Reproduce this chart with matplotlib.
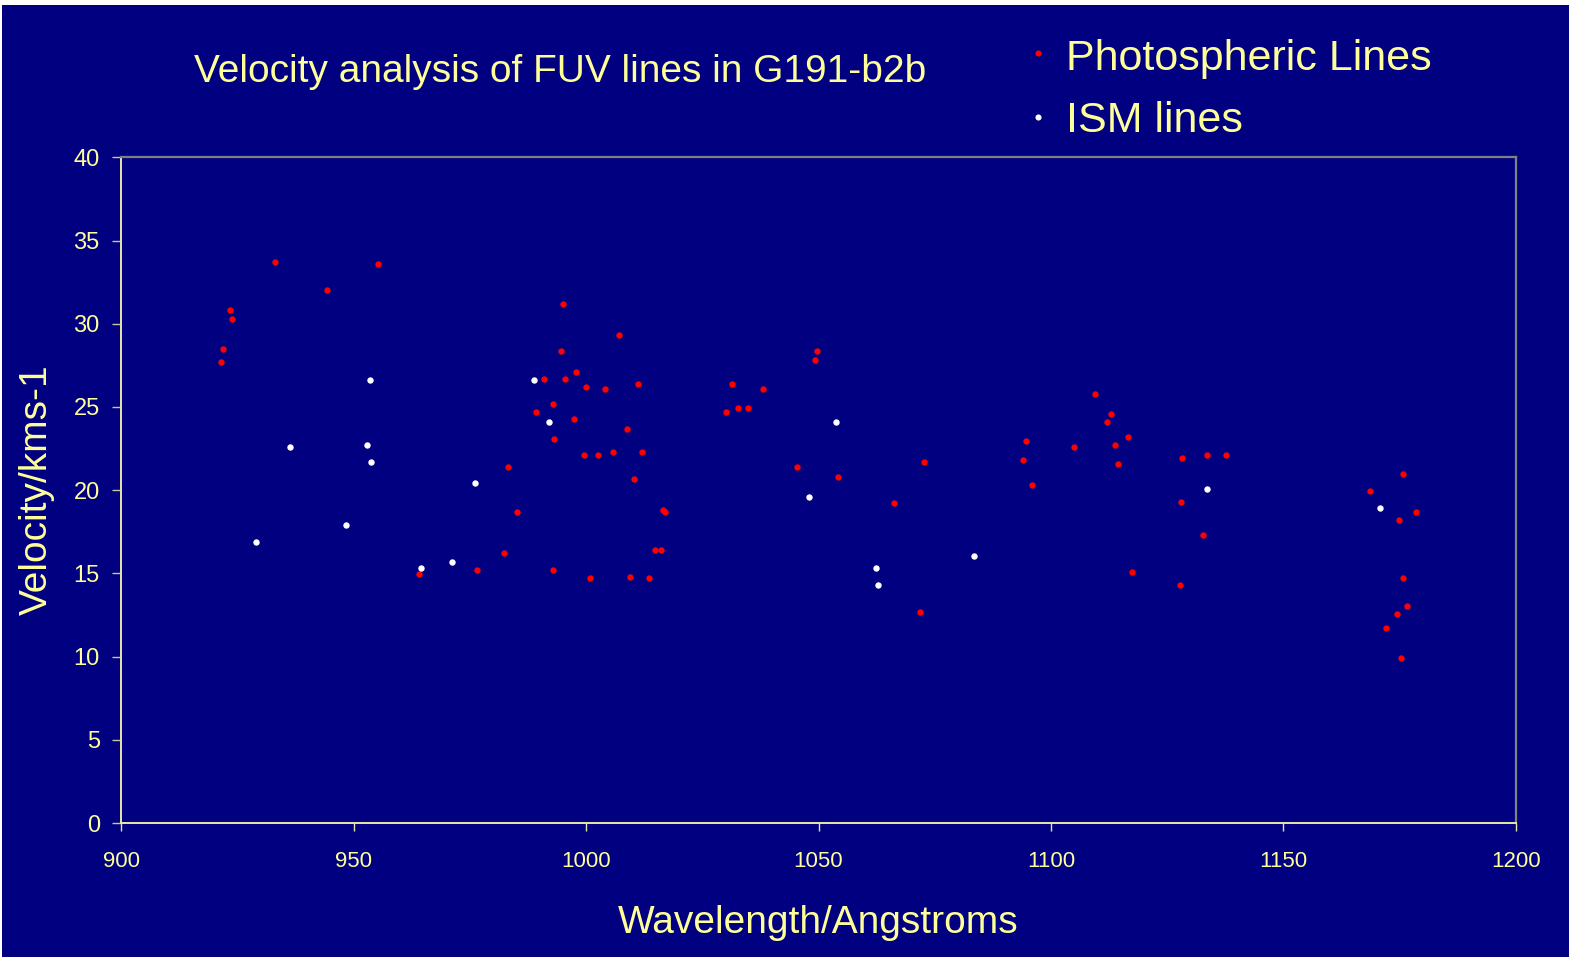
import matplotlib
matplotlib.use("Agg")
import matplotlib.pyplot as plt
from matplotlib.patches import Rectangle
from matplotlib.lines import Line2D

# ---- data ----
photo_wl = [933.1, 955.2, 944.3, 923.3, 923.8, 921.9, 921.5, 983.3, 985.1,
            995.0, 1007.1, 994.6, 1049.7, 1049.3, 997.8, 991.0, 995.5, 1000.0,
            1004.0, 1011.2, 1031.4, 1038.1, 992.8, 989.3, 997.3, 1030.0, 1032.7,
            1034.9, 1008.9, 993.2, 999.5, 1002.6, 1005.8, 1012.1, 1045.3, 1010.3,
            1054.3, 1016.5, 1017.0, 1066.3, 982.4, 1014.8, 1016.2, 992.8, 1000.8,
            1009.4, 1013.5, 1071.9, 964.1, 976.6, 1109.4, 1112.9, 1112.1, 1116.6,
            1094.6, 1104.9, 1113.7, 1072.6, 1094.1, 1114.5, 1128.3, 1133.6, 1137.7,
            1095.9, 1127.9, 1132.8, 1117.4, 1127.8, 1175.8, 1168.6, 1178.5, 1174.9,
            1175.8, 1176.6, 1174.4, 1172.2, 1175.3]
photo_v = [33.7, 33.6, 32.0, 30.8, 30.3, 28.5, 27.7, 21.4, 18.7,
           31.2, 29.3, 28.35, 28.35, 27.8, 27.1, 26.7, 26.7, 26.2,
           26.1, 26.35, 26.35, 26.1, 25.2, 24.7, 24.3, 24.7, 24.96,
           24.96, 23.7, 23.1, 22.1, 22.1, 22.3, 22.3, 21.4, 20.7,
           20.8, 18.8, 18.7, 19.2, 16.2, 16.4, 16.4, 15.2, 14.7,
           14.8, 14.7, 12.7, 14.95, 15.2, 25.8, 24.6, 24.1, 23.2,
           22.96, 22.6, 22.7, 21.7, 21.8, 21.6, 21.95, 22.1, 22.1,
           20.3, 19.3, 17.3, 15.07, 14.3, 20.95, 19.95, 18.7, 18.2,
           14.7, 13.06, 12.56, 11.7, 9.93]

ism_wl = [953.4, 936.4, 952.9, 953.8, 976.2, 948.4, 929.0, 988.8, 992.0,
          1053.8, 1048.0, 1062.3, 1062.7, 964.5, 971.2, 1083.4, 1133.6, 1170.8]
ism_v = [26.6, 22.6, 22.7, 21.7, 20.45, 17.9, 16.9, 26.6, 24.1,
         24.1, 19.6, 15.3, 14.3, 15.3, 15.7, 16.06, 20.07, 18.95]

x_ticks = [900, 950, 1000, 1050, 1100, 1150, 1200]
y_ticks = [0, 5, 10, 15, 20, 25, 30, 35, 40]

title_text = "Velocity analysis of FUV lines in G191-b2b"
series_names = ["Photospheric Lines", "ISM lines"]
x_label = "Wavelength/Angstroms"
y_label = "Velocity/kms-1"

# ---- style ----
W, H = 1585, 957
NAVY = "#000080"
TXT = "#FFFF99"
plt.rcParams['font.family'] = ['Liberation Sans', 'DejaVu Sans']

fig = plt.figure(figsize=(W / 100, H / 100), dpi=100, facecolor="white")
fig.patches.append(Rectangle((2 / W, 0), (1569 - 2) / W, (H - 5) / H,
                             transform=fig.transFigure, facecolor=NAVY,
                             edgecolor="none", zorder=-10))

left, right, top, bottom = 121.3, 1515.7, 157.3, 823.0
ax = fig.add_axes([left / W, (H - bottom) / H, (right - left) / W, (bottom - top) / H])
ax.set_facecolor(NAVY)

ax.plot(photo_wl, photo_v, linestyle="none", marker="o", markersize=4.6,
        color="#FF0000", markeredgewidth=0, clip_on=False)
ax.plot(ism_wl, ism_v, linestyle="none", marker="o", markersize=4.6,
        color="white", markeredgewidth=0, clip_on=False)

ax.set_xlim(900, 1200)
ax.set_ylim(0, 40)
ax.set_xticks(x_ticks)
ax.set_yticks(y_ticks)
ax.set_xticklabels([str(t) for t in x_ticks])
ax.set_yticklabels([str(t) for t in y_ticks])

for s in ["left", "bottom"]:
    ax.spines[s].set_color("#E8E8A8")
    ax.spines[s].set_linewidth(1.4)
for s in ["top", "right"]:
    ax.spines[s].set_color("#808080")
    ax.spines[s].set_linewidth(1.6)

ax.tick_params(axis="x", direction="out", length=6, width=1, color="#E8E8A8",
               labelcolor=TXT, labelsize=16, pad=14)
ax.tick_params(axis="y", direction="out", length=6.5, width=1, color="#C8C8A0",
               labelcolor=TXT, labelsize=17, pad=9)

# title, axis labels
fig.text(560.5 / W, 1 - 82 / H, title_text, color=TXT, fontsize=28,
         ha="center", va="baseline")
fig.text(818 / W, 1 - 933 / H, x_label, color=TXT, fontsize=28,
         ha="center", va="baseline")
fig.text(37 / W, 1 - 490 / H, y_label, color=TXT, fontsize=28,
         ha="center", va="center", rotation=90)

# legend
leg_colors = ["#FF0000", "white"]
leg_marker_y = [53.3, 116.7]
leg_base_y = [70, 132]
for name, c, my, by in zip(series_names, leg_colors, leg_marker_y, leg_base_y):
    fig.add_artist(Line2D([1038.3 / W], [1 - my / H], transform=fig.transFigure,
                          linestyle="none", marker="o", markersize=4.4,
                          color=c, markeredgewidth=0))
    fig.text(1066 / W, 1 - by / H, name, color=TXT, fontsize=31,
             ha="left", va="baseline")

fig.savefig("out.png", dpi=100, facecolor=fig.get_facecolor())
